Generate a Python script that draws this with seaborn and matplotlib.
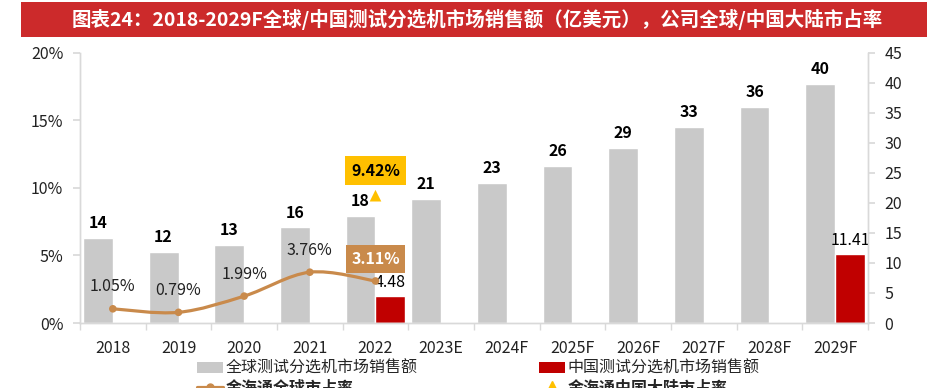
import numpy as np
import pandas as pd
import matplotlib
matplotlib.use("Agg")
import matplotlib.pyplot as plt
import seaborn as sns
from matplotlib.patches import Rectangle, PathPatch, Patch
from matplotlib.path import Path
from matplotlib.lines import Line2D

# ---- data ----
years = ["2018", "2019", "2020", "2021", "2022", "2023E", "2024F",
         "2025F", "2026F", "2027F", "2028F", "2029F"]
global_sales = [14.1, 11.8, 13.0, 15.9, 17.8, 20.6, 23.3, 26.1, 29.2, 32.6, 36.0, 39.8]
china_years = ["2022", "2029F"]
china_sales = [4.48, 11.41]
share_years = ["2018", "2019", "2020", "2021", "2022"]
global_share = [1.05, 0.79, 1.99, 3.76, 3.11]
china_share_year = "2022"
china_share = 9.42

GRAY = "#C9C9C9"
RED = "#C00000"
LINE = "#C98A4B"
YELLOW = "#FFC000"
TITLE_RED = "#CC2A2B"
SPINE = "#D9D9D9"

sns.set_theme(style="white")
plt.rcParams["font.family"] = ["Noto Sans CJK SC", "DejaVu Sans"]

df = pd.concat([
    pd.DataFrame({"year": years, "value": global_sales, "series": "全球测试分选机市场销售额"}),
    pd.DataFrame({"year": china_years, "value": china_sales, "series": "中国测试分选机市场销售额"}),
])

fig = plt.figure(figsize=(9.4, 3.88), dpi=100)
ax = fig.add_axes([80 / 940, 1 - 323 / 388, (868 - 80) / 940, (323 - 52.7) / 388])

sns.barplot(data=df, x="year", y="value", hue="series", order=years,
            hue_order=["全球测试分选机市场销售额", "中国测试分选机市场销售额"],
            palette=[GRAY, RED], width=0.91, gap=0, errorbar=None, ax=ax,
            legend=False, saturation=1)
ax.set_ylim(0, 45)
ax.set_xlim(-0.5, len(years) - 0.5)
ax.set_yticks(np.arange(0, 46, 5))
ax.set_xlabel("")
ax.set_ylabel("")

ax.bar_label(ax.containers[0], labels=[f"{v:.0f}" for v in global_sales],
             padding=5, fontsize=11.5, fontweight="bold", color="black")
ax.bar_label(ax.containers[1], labels=[f"{v:.2f}" for v in china_sales],
             padding=4, fontsize=11.5, color="black")

# percentage axis on the left, sales axis on the right
ax2 = ax.twinx()
ax.yaxis.tick_right()
ax.yaxis.set_label_position("right")
ax2.yaxis.tick_left()
ax2.set_ylim(0, 20)
ax2.set_yticks(np.arange(0, 21, 5))
ax2.set_yticklabels([f"{v:.0f}%" for v in np.arange(0, 21, 5)])

xs = np.array([years.index(y) for y in share_years], dtype=float)
ys = np.array(global_share)
# smoothed line (Excel-style)
pts = np.column_stack([xs, ys])
ext = np.vstack([pts[0], pts, pts[-1]])
verts = [tuple(pts[0])]
codes = [Path.MOVETO]
for i in range(len(pts) - 1):
    p0, p1, p2, p3 = ext[i], ext[i + 1], ext[i + 2], ext[i + 3]
    c1 = p1 + (p2 - p0) / 6
    c2 = p2 - (p3 - p1) / 6
    verts += [tuple(c1), tuple(c2), tuple(p2)]
    codes += [Path.CURVE4] * 3
ax2.add_patch(PathPatch(Path(verts, codes), facecolor="none", edgecolor=LINE, lw=2.3, zorder=3))
sns.scatterplot(x=xs, y=ys, color=LINE, s=30, edgecolor="none", ax=ax2, zorder=4, legend=False)

for x, y in zip(xs[:-1], ys[:-1]):
    ax2.annotate(f"{y:.2f}%", (x, y), xytext=(0, 22), textcoords="offset pixels",
                 ha="center", va="center", fontsize=11.5, color="#222222")
ax2.annotate(f"{ys[-1]:.2f}%", (xs[-1], ys[-1]), xytext=(0, 22), textcoords="offset pixels",
             ha="center", va="center", fontsize=11.5, fontweight="bold", color="white",
             bbox=dict(boxstyle="square,pad=0.35", fc=LINE, ec="none"), zorder=6)

cx = years.index(china_share_year)
sns.scatterplot(x=[cx], y=[china_share], marker="^", color=YELLOW, s=70,
                edgecolor="none", ax=ax2, zorder=5, legend=False)
ax2.annotate(f"{china_share:.2f}%", (cx, china_share), xytext=(0, 25), textcoords="offset pixels",
             ha="center", va="center", fontsize=11.5, fontweight="bold", color="black",
             bbox=dict(boxstyle="square,pad=0.4", fc=YELLOW, ec="none"), zorder=6)

# axes styling
for a in (ax, ax2):
    a.spines["top"].set_visible(False)
    for s in ("left", "right", "bottom"):
        a.spines[s].set_color(SPINE)
        a.spines[s].set_linewidth(1)
    a.grid(False)
ax.tick_params(axis="y", labelsize=11.5, length=5, color=SPINE, pad=7, labelcolor="#222222")
ax2.tick_params(axis="y", labelsize=11.5, length=5, color=SPINE, pad=7, labelcolor="#222222")
ax.set_xticks(range(len(years)))
ax.set_xticklabels(years)
ax.set_xticks(np.arange(-0.5, len(years), 1), minor=True)
ax.tick_params(axis="x", which="major", length=0, pad=12, labelsize=11.5, labelcolor="#222222")
ax.tick_params(axis="x", which="minor", length=5, color=SPINE, bottom=True)

# title bar
fig.add_artist(Rectangle((21 / 940, 1 - 37 / 388), (927 - 21) / 940, 35 / 388,
                         transform=fig.transFigure, facecolor=TITLE_RED, edgecolor="none"))
fig.text(477 / 940, 1 - 19.5 / 388,
         "图表24：2018-2029F全球/中国测试分选机市场销售额（亿美元），公司全球/中国大陆市占率",
         ha="center", va="center", color="white", fontsize=14, fontweight="bold")

# legend (second row is cut by the figure edge, as in the source)
handles = [
    Patch(facecolor=GRAY, edgecolor="none"),
    Line2D([0], [0], color=LINE, lw=2.3, marker="o", markersize=5),
    Patch(facecolor=RED, edgecolor="none"),
    Line2D([0], [0], color=YELLOW, lw=0, marker="^", markersize=9),
]
labels = ["全球测试分选机市场销售额", "金海通全球市占率",
          "中国测试分选机市场销售额", "金海通中国大陆市占率"]
leg = fig.legend(handles, labels, ncol=2, loc="upper left",
                 bbox_to_anchor=(197 / 940, 1 - 360 / 388), frameon=False,
                 fontsize=11.5, borderpad=0, borderaxespad=0, handlelength=1.6,
                 handleheight=0.7, handletextpad=0.2, columnspacing=7.6, labelspacing=0.15)
leg.get_texts()[1].set_fontweight("bold")
leg.get_texts()[3].set_fontweight("bold")

fig.savefig("out.png", dpi=100)
